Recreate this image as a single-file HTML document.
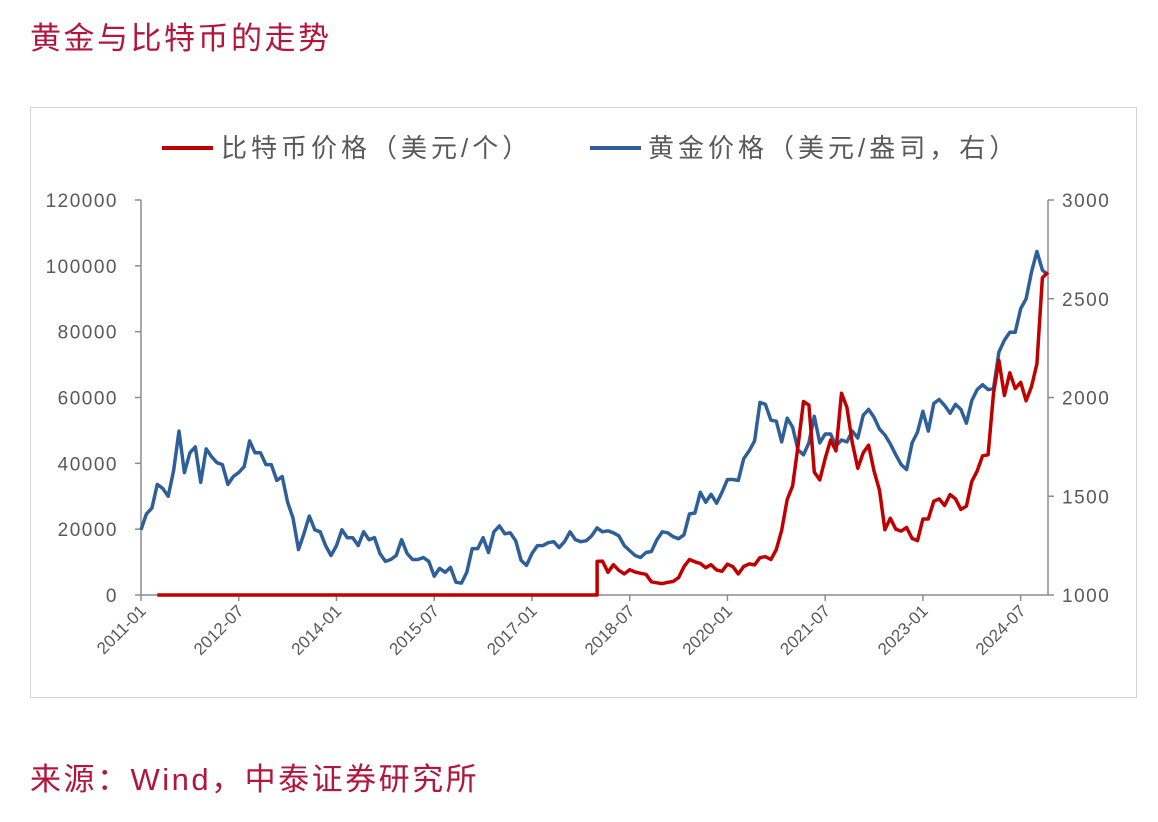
<!DOCTYPE html>
<html><head><meta charset="utf-8">
<style>
body{margin:0;width:1158px;height:822px;background:#fff;overflow:hidden;font-family:"Liberation Sans","Noto Sans CJK SC",sans-serif;}
.title{position:absolute;left:30px;top:13px;font-size:31px;letter-spacing:2.5px;color:#b3163c;}
.src{position:absolute;left:30px;top:754px;font-size:31px;letter-spacing:2.5px;color:#b3163c;}
.box{position:absolute;left:30px;top:107px;width:1105px;height:589px;border:1px solid #d4d4d4;}
svg{position:absolute;left:0;top:0;}
</style></head><body>
<div class="title">黄金与比特币的走势</div>
<div class="box"></div>
<svg id="chart" width="1158" height="822"></svg>
<div class="src">来源：Wind，中泰证券研究所</div>
<script>
const xLabels=["2011-01","2012-07","2014-01","2015-07","2017-01","2018-07","2020-01","2021-07","2023-01","2024-07"];
const leftTicks=[0,20000,40000,60000,80000,100000,120000];
const rightTicks=[1000,1500,2000,2500,3000];
const gold=[
1330,1410,1440,1560,1540,1500,1630,1830,1620,1720,1750,1570,
1740,1700,1670,1660,1560,1600,1620,1650,1780,1720,1720,1660,
1660,1580,1600,1470,1390,1230,1310,1400,1330,1320,1250,1200,
1250,1330,1290,1290,1250,1320,1280,1290,1210,1170,1180,1200,
1280,1210,1180,1180,1190,1170,1095,1135,1115,1140,1065,1060,
1115,1235,1235,1290,1215,1320,1350,1310,1315,1275,1175,1150,
1210,1250,1250,1265,1270,1240,1270,1320,1280,1270,1275,1300,
1340,1320,1325,1315,1300,1250,1225,1200,1190,1215,1220,1280,
1320,1315,1295,1285,1305,1410,1415,1520,1470,1510,1465,1520,
1585,1585,1580,1690,1730,1780,1975,1965,1885,1880,1775,1895,
1850,1735,1710,1770,1905,1770,1815,1815,1755,1785,1775,1830,
1795,1910,1940,1900,1840,1810,1765,1710,1660,1635,1770,1825,
1930,1830,1970,1990,1960,1920,1965,1940,1870,1985,2040,2065,
2040,2045,2230,2290,2330,2330,2450,2500,2635,2740,2645,2620];
const btc=[
null,null,null,0,0,0,0,0,0,0,0,0,
0,0,0,0,0,0,0,0,0,0,0,0,
0,0,0,0,0,0,0,0,0,0,0,0,
0,0,0,0,0,0,0,0,0,0,0,0,
0,0,0,0,0,0,0,0,0,0,0,0,
0,0,0,0,0,0,0,0,0,0,0,0,
0,0,0,0,0,0,0,0,0,0,0,0,
10200,10300,6900,9200,7500,6400,7700,7000,6600,6300,4000,3700,
3450,3850,4100,5300,8600,10800,10100,9600,8300,9200,7600,7200,
9350,8600,6400,8650,9450,9150,11350,11650,10800,13800,19700,29000,
33100,45200,58800,57700,37300,35000,41500,47100,43800,61300,57000,46300,
38500,43200,45500,37700,31800,19800,23300,20000,19400,20500,17200,16500,
23100,23100,28500,29200,27200,30500,29200,26000,27000,34500,37700,42300,
42600,61200,71300,60600,67500,62700,64600,59000,63300,70200,96400,98000];

const NS="http://www.w3.org/2000/svg";
const svg=document.getElementById('chart');
const X0=141,X1=1048,Y0=595,Y1=200,PXM=5.43;
const xm=i=>X0+i*PXM;
const yL=v=>Y0-(v/120000)*(Y0-Y1);
const yR=v=>Y0-((v-1000)/2000)*(Y0-Y1);
function mk(t,a,txt){const e=document.createElementNS(NS,t);for(const k in a)e.setAttribute(k,a[k]);if(txt!=null)e.textContent=txt;svg.appendChild(e);return e;}

let e=mk('line',{x1:X0,y1:Y1,x2:X0,y2:Y0,stroke:'#8c8c8c','stroke-width':1.5});

e=mk('line',{x1:X1,y1:Y1,x2:X1,y2:Y0,stroke:'#8c8c8c','stroke-width':1.5});

e=mk('line',{x1:X0,y1:Y0,x2:X1,y2:Y0,stroke:'#8c8c8c','stroke-width':1.5});


leftTicks.forEach(v=>{const y=yL(v);
 mk('line',{x1:X0-6,y1:y,x2:X0,y2:y,stroke:'#8c8c8c','stroke-width':1.5});
 const t=mk('text',{x:118,y:y+7,'text-anchor':'end','font-size':19,'letter-spacing':1.5,fill:'#595959'},String(v));
 });
rightTicks.forEach(v=>{const y=yR(v);
 mk('line',{x1:X1,y1:y,x2:X1+6,y2:y,stroke:'#8c8c8c','stroke-width':1.5});
 const t=mk('text',{x:1062,y:y+7,'font-size':19,'letter-spacing':1.5,fill:'#595959'},String(v));
 });
xLabels.forEach((s,i)=>{const x=xm(i*18);
 mk('line',{x1:x,y1:Y0,x2:x,y2:Y0+6,stroke:'#8c8c8c','stroke-width':1.5});
 const t=mk('text',{x:x+6,y:Y0+17,'text-anchor':'end','font-size':17,fill:'#595959',transform:`rotate(-45 ${x+6} ${Y0+17})`},s);
 });

let d='';gold.forEach((v,i)=>{d+=(i?'L':'M')+xm(i).toFixed(1)+' '+yR(v).toFixed(1);});
e=mk('path',{d:d,fill:'none',stroke:'#2f5f98','stroke-width':3.5,'stroke-linejoin':'round'});

d='';let started=false;btc.forEach((v,i)=>{if(v==null)return;
 if(i>0&&btc[i-1]===0&&v>0){d+='L'+xm(i).toFixed(1)+' '+yL(0).toFixed(1);}
 d+=(started?'L':'M')+xm(i).toFixed(1)+' '+yL(v).toFixed(1);started=true;});
e=mk('path',{d:d,fill:'none',stroke:'#c00000','stroke-width':3.5,'stroke-linejoin':'round'});


e=mk('line',{x1:162,y1:148,x2:213,y2:148,stroke:'#c00000','stroke-width':4});

e=mk('text',{x:221,y:157,'font-size':26,'letter-spacing':4,fill:'#595959'},'比特币价格（美元/个）');

e=mk('line',{x1:590,y1:148,x2:641,y2:148,stroke:'#2f5f98','stroke-width':4});

e=mk('text',{x:648,y:157,'font-size':26,'letter-spacing':4,fill:'#595959'},'黄金价格（美元/盎司，右）');

</script>
</body></html>
